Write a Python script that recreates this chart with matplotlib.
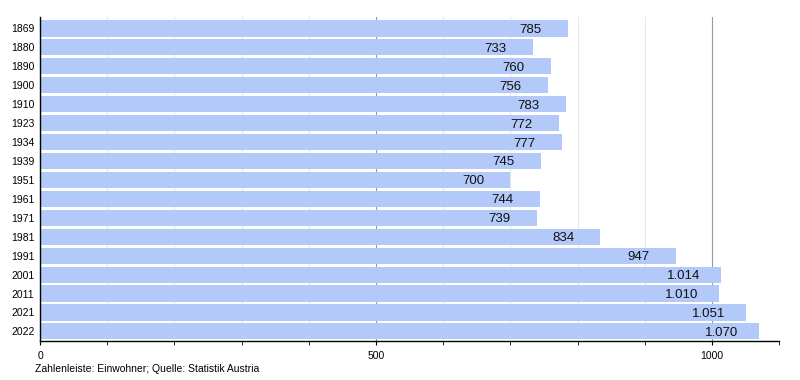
import numpy as np
import matplotlib.pyplot as plt
from matplotlib.ticker import MultipleLocator

plt.rcParams['font.family'] = ['Liberation Sans', 'DejaVu Sans']

# Daten
jahre = ['1869', '1880', '1890', '1900', '1910', '1923', '1934', '1939', '1951',
         '1961', '1971', '1981', '1991', '2001', '2011', '2021', '2022']
einwohner = [785, 733, 760, 756, 783, 772, 777, 745, 700,
             744, 739, 834, 947, 1014, 1010, 1051, 1070]

def fmt(v):
    s = f"{v:,}"
    return s.replace(',', '.')

fig = plt.figure(figsize=(8, 3.8), dpi=100)
ax = fig.add_axes([0.05, 0.103, 0.924, 0.852])

y = np.arange(len(jahre))
ax.barh(y, einwohner, height=0.85, color='#b3c9f9', zorder=2)

for yi, v in zip(y, einwohner):
    ax.annotate(fmt(v), (v, yi), xytext=(-27, 0), textcoords='offset points',
                ha='center', va='center_baseline', fontsize=9.5, color='#111111', zorder=3)

ax.set_ylim(len(jahre) - 0.5, -0.6)
ax.set_xlim(0, 1100)
ax.set_yticks(y)
ax.set_yticklabels(jahre, fontsize=7.5)
ax.tick_params(axis='y', length=0, pad=4)

ax.xaxis.set_major_locator(MultipleLocator(500))
ax.xaxis.set_minor_locator(MultipleLocator(100))
ax.tick_params(axis='x', which='both', length=3, labelsize=7.5, pad=4, direction='out')
ax.grid(axis='x', which='major', color='#999999', linewidth=0.8, zorder=0)
ax.grid(axis='x', which='minor', color='#e6e6e6', linewidth=0.8, zorder=0)

for s in ['top', 'right']:
    ax.spines[s].set_visible(False)
ax.spines['left'].set_linewidth(1.0)
ax.spines['bottom'].set_linewidth(1.0)

fig.text(0.044, 0.029, 'Zahlenleiste: Einwohner; Quelle: Statistik Austria',
         fontsize=7.5, va='center')

fig.savefig('out.png', dpi=100)
